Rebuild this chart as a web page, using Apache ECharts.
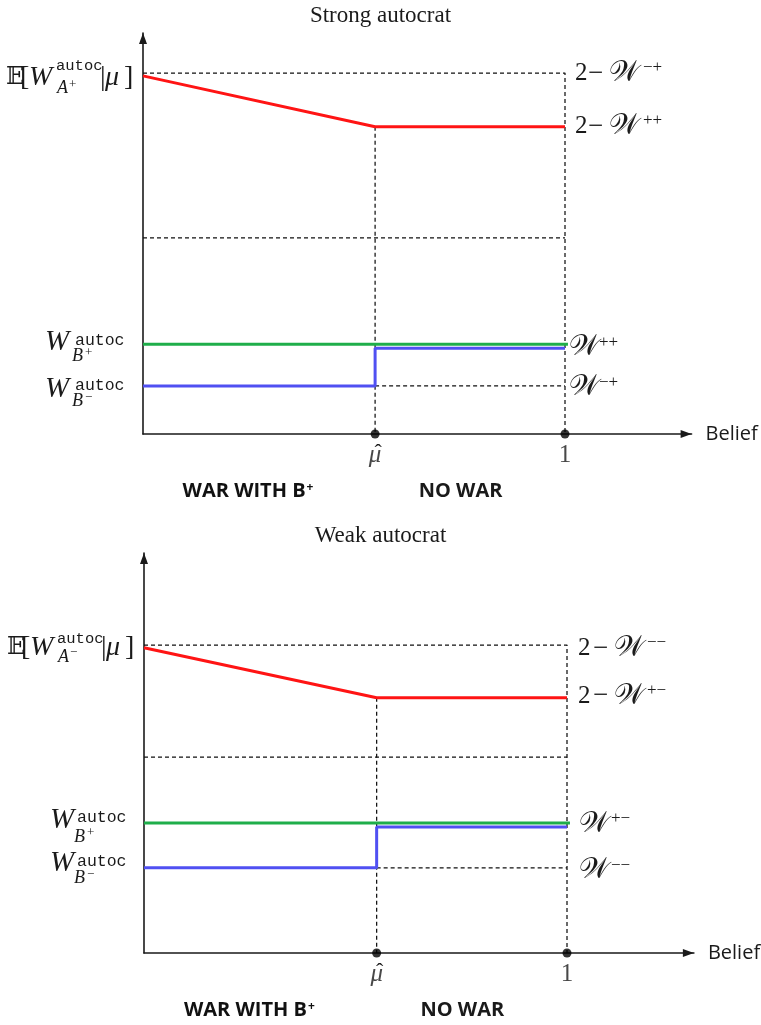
<!DOCTYPE html>
<html><head><meta charset="utf-8">
<script src="https://cdn.jsdelivr.net/npm/echarts@6/dist/echarts.min.js"></script>
<style>html,body{margin:0;padding:0;background:#fff}#c{width:761px;height:1025px}</style>
</head><body><div id="c"></div>
<script>
// ---------------- data ----------------
const chartTitles = ['Strong autocrat', 'Weak autocrat'];
const muHat = 0.55;
const beliefTicks = [muHat, 1];
const beliefTickLabels = ['μ', '1'];
const beliefTickAccents = ['ˆ', ''];
const regimeLabels = ['WAR WITH B', 'NO WAR'];
const axisName = 'Belief';

// Strong autocrat (A+)
const strongRed   = [[0, 8.93], [muHat, 7.66], [1, 7.66]];
const strongGreen = [[0, 2.24], [1.007, 2.24]];
const strongBlue  = [[0, 1.20], [muHat, 1.20], [muHat, 2.14], [1, 2.14]];
const strongGuideTop = [[0, 9.0], [1, 9.0], [1, 0]];
const strongGuideMid = [[0, 4.89], [1, 4.89]];
const strongGuideMu  = [[muHat, 7.66], [muHat, 0]];
const strongGuideLow = [[muHat, 1.20], [1, 1.20]];
const strongSubSign = '+';
const strongRightSups = ['−+', '++', '++', '−+'];

// Weak autocrat (A-)
const weakRed   = [[0, 7.63], [muHat, 6.38], [1, 6.38]];
const weakGreen = [[0, 3.25], [1.007, 3.25]];
const weakBlue  = [[0, 2.13], [muHat, 2.13], [muHat, 3.15], [1, 3.15]];
const weakGuideTop = [[0, 7.7], [1, 7.7], [1, 0]];
const weakGuideMid = [[0, 4.90], [1, 4.90]];
const weakGuideMu  = [[muHat, 6.38], [muHat, 0]];
const weakGuideLow = [[muHat, 2.13], [1, 2.13]];
const weakSubSign = '−';
const weakRightSups = ['−−', '+−', '+−', '−−'];

// ---------------- styling ----------------
const SERIF = '"Liberation Serif", "DejaVu Serif", serif';
const MONO = '"Liberation Mono", "DejaVu Sans Mono", monospace';
const SANS = '"Open Sans", "Liberation Sans", sans-serif';
const INK = '#1a1a1a';
const RED = '#ff1414', GREEN = '#1fae4a', BLUE = '#5050f2';

const charts = [
  {red: strongRed, green: strongGreen, blue: strongBlue, gTop: strongGuideTop, gMid: strongGuideMid, gMu: strongGuideMu, gLow: strongGuideLow, subSign: strongSubSign, sups: strongRightSups},
  {red: weakRed, green: weakGreen, blue: weakBlue, gTop: weakGuideTop, gMid: weakGuideMid, gMu: weakGuideMu, gLow: weakGuideLow, subSign: weakSubSign, sups: weakRightSups}
];

const grids = [
  {left: 143, top: 33, width: 548.6, height: 401, outerBoundsMode: 'none'},
  {left: 144, top: 553, width: 549.9, height: 400, outerBoundsMode: 'none'}
];

const axisLine = {show: true, onZero: false, symbol: ['none', 'triangle'], symbolSize: [8, 11], symbolOffset: [0, -5.5], lineStyle: {color: INK, width: 1.6}};

function xAx(i) {
  return {type: 'value', gridIndex: i, min: 0, max: 1.3, name: axisName, nameLocation: 'end', nameGap: 14,
    nameTextStyle: {fontFamily: SANS, fontSize: 20, color: INK, verticalAlign: 'middle'},
    axisLine, axisTick: {show: false}, axisLabel: {show: false}, splitLine: {show: false}};
}
function yAx(i) {
  return {type: 'value', gridIndex: i, min: 0, max: 10,
    axisLine, axisTick: {show: false}, axisLabel: {show: false}, splitLine: {show: false}};
}
function line(i, data, color, width, dashed, z) {
  return {type: 'line', xAxisIndex: i, yAxisIndex: i, data, symbol: 'none', showSymbol: false, silent: true, z, clip: false,
    lineStyle: {color, width, type: dashed ? [4, 3] : 'solid', cap: 'butt'}};
}

const series = [];
charts.forEach((c, i) => {
  [c.gTop, c.gMid, c.gMu, c.gLow].forEach(d => series.push(line(i, d, '#111', 1.25, true, 2)));
  series.push(line(i, c.red, RED, 3, false, 3));
  series.push(line(i, c.blue, BLUE, 3, false, 3));
  series.push(line(i, c.green, GREEN, 3, false, 4));
  series.push({type: 'scatter', xAxisIndex: i, yAxisIndex: i, data: beliefTicks.map(v => [v, 0]), symbolSize: 9, z: 10, silent: true, clip: false,
    itemStyle: {color: '#000'},
    label: {show: true, position: 'bottom', distance: 4,
      formatter: p => p.dataIndex === 0 ? '{i|' + beliefTickLabels[0] + '}' : '{n|' + beliefTickLabels[1] + '}',
      rich: {i: {fontFamily: SERIF, fontStyle: 'italic', fontSize: 25, color: INK}, n: {fontFamily: SERIF, fontSize: 25, color: INK}}}});
});

const option = {
  animation: false,
  backgroundColor: '#fff',
  title: [
    {text: chartTitles[0], left: 'center', top: 4, padding: 0, textStyle: {fontFamily: SERIF, fontSize: 23, fontWeight: 'normal', color: INK}},
    {text: chartTitles[1], left: 'center', top: 524, padding: 0, textStyle: {fontFamily: SERIF, fontSize: 23, fontWeight: 'normal', color: INK}}
  ],
  grid: grids,
  xAxis: [xAx(0), xAx(1)],
  yAxis: [yAx(0), yAx(1)],
  series
};

const chart = echarts.init(document.getElementById('c'));
chart.setOption(option);

// ---------------- math-style labels anchored to the scales ----------------
function txt(x, y, text, size, o) {
  o = o || {};
  return {type: 'text', x, y, z: 50, silent: true,
    style: {text, fill: INK, fontSize: size, fontFamily: o.family || SERIF, fontStyle: o.italic ? 'italic' : 'normal',
      fontWeight: o.bold ? 'bold' : 'normal', align: o.align || 'left', verticalAlign: 'middle', rich: o.rich}};
}
const px = (g, p) => chart.convertToPixel({gridIndex: g}, p);

const leftLayout = [
  {e: {m: 4.5, sp: -7.5, sb: 15.5}, wp: {dx: -98, m: -1.5, spx: -68, sp: -3.5, sbx: -71, sb: 12.5}, wm: {dx: -98, m: 3, spx: -68, sp: -0.5, sbx: -71, sb: 15.5}},
  {e: {m: 2.5, sp: -6.5, sb: 12}, wp: {dx: -94, m: -3, spx: -67, sp: -5.5, sbx: -70, sb: 14}, wm: {dx: -94, m: -4, spx: -67, sp: -6.5, sbx: -70, sb: 10.5}}
];
const rightLayout = [
  {two: 10, minus: 23, W: 44, sup: 78, Wa: 4, supA: 34, dy: [0.5, 0, 3.5, 1.5]},
  {two: 11, minus: 26, W: 47, sup: 80, Wa: 12, supA: 44, dy: [3.5, -1.5, 1, 3]}
];

const gfx = [];
charts.forEach((c, g) => {
  const L = leftLayout[g];
  // E[W^autoc_{A±} | mu]
  let [ax, ay] = px(g, c.gTop[0]);
  gfx.push(txt(ax - 137, ay + L.e.m, '𝔼', 24));
  gfx.push(txt(ax - 123, ay + L.e.m, '[', 28));
  gfx.push(txt(ax - 114, ay + L.e.m, 'W', 28, {italic: true}));
  gfx.push(txt(ax - 87, ay + L.e.sp, 'autoc', 15.5, {family: MONO}));
  gfx.push(txt(ax - 86, ay + L.e.sb, 'A', 18, {italic: true}));
  gfx.push(txt(ax - 74, ay + L.e.sb - 4, c.subSign, 13));
  gfx.push(txt(ax - 43, ay + L.e.m, '|', 28));
  gfx.push(txt(ax - 38, ay + L.e.m, 'μ', 28, {italic: true}));
  gfx.push(txt(ax - 19, ay + L.e.m, ']', 28));
  // W^autoc_{B+}, W^autoc_{B-}
  [[c.green[0], L.wp, '+'], [c.blue[0], L.wm, '−']].forEach(([pt, l, sgn]) => {
    const [bx, by] = px(g, pt);
    gfx.push(txt(bx + l.dx, by + l.m, 'W', 29, {italic: true}));
    gfx.push(txt(bx + l.spx, by + l.sp, 'autoc', 16.5, {family: MONO}));
    gfx.push(txt(bx + l.sbx, by + l.sb, 'B', 18, {italic: true}));
    gfx.push(txt(bx + l.sbx + 13, by + l.sb - 4, sgn, 13));
  });
  // right labels
  const R = rightLayout[g];
  const rAnchors = [c.gTop[1], c.red[2], [1, c.green[0][1]], c.gLow[1]];
  rAnchors.forEach((pt, k) => {
    const [rx, ry0] = px(g, pt);
    const ry = ry0 + R.dy[k];
    if (k < 2) {
      gfx.push(txt(rx + R.two, ry, '2', 25));
      gfx.push(txt(rx + R.minus, ry, '−', 27));
      gfx.push(txt(rx + R.W, ry, '𝒲', 29));
      gfx.push(txt(rx + R.sup, ry - 6, c.sups[k], 17));
    } else {
      gfx.push(txt(rx + R.Wa, ry, '𝒲', 29));
      gfx.push(txt(rx + R.supA, ry - 5, c.sups[k], 17));
    }
  });
  // accent over the mu-hat tick label
  beliefTicks.forEach((v, k) => {
    if (!beliefTickAccents[k]) return;
    const [tx, ty] = px(g, [v, 0]);
    gfx.push(txt(tx + 3, ty + 19, beliefTickAccents[k], 22, {align: 'center'}));
  });
  // regime labels under the belief axis
  const [x0, y0] = px(g, [0, 0]);
  const [xm] = px(g, [muHat, 0]);
  const [x1] = px(g, [1, 0]);
  gfx.push(txt((x0 + xm) / 2 - 11, y0 + 57.5, '{m|' + regimeLabels[0] + '}{s|+}', 20, {align: 'center', family: SANS,
    rich: {m: {fontFamily: SANS, fontWeight: 'bold', fontSize: 20, lineHeight: 24, verticalAlign: 'middle', fill: '#111'},
           s: {fontFamily: SANS, fontWeight: 'bold', fontSize: 12, lineHeight: 24, verticalAlign: 'top', padding: [2, 0, 0, 1], fill: '#111'}}}));
  gfx.push(txt((xm + x1) / 2 - 9.5, y0 + 57.5, regimeLabels[1], 20, {align: 'center', family: SANS, bold: true}));
});
chart.setOption({graphic: gfx});
</script>
</body></html>
